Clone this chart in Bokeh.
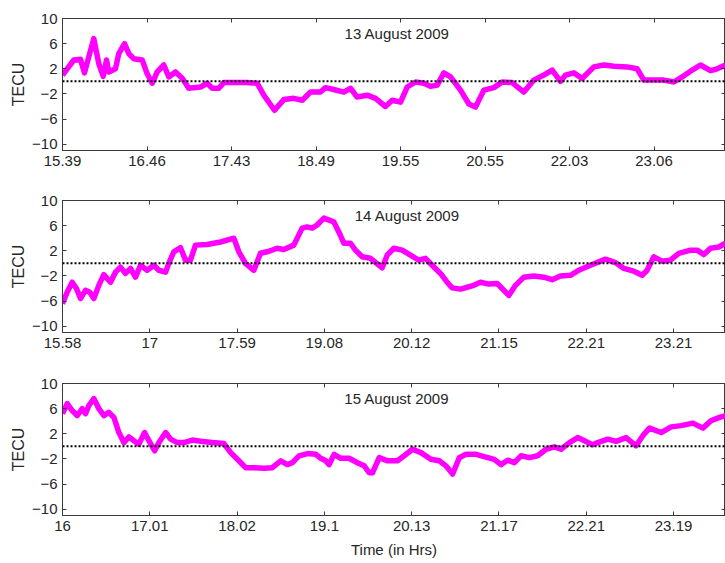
from bokeh.plotting import figure
from bokeh.models import (ColumnDataSource, FixedTicker, CustomJSTickFormatter,
                          CustomLabelingPolicy, LinearAxis, Span, Label, Range1d)
from bokeh.layouts import column
from bokeh.embed import file_html
from bokeh.resources import INLINE

# ---------------- data (x in units of labelled tick intervals) ----------------
y_ticks = [-10, -6, -2, 2, 6, 10]

labels_13 = ["15.39", "16.46", "17.43", "18.49", "19.55", "20.55", "22.03", "23.06"]
labels_14 = ["15.58", "17", "17.59", "19.08", "20.12", "21.15", "22.21", "23.21"]
labels_15 = ["16", "17.01", "18.02", "19.1", "20.13", "21.17", "22.21", "23.19"]

titles = ["13 August 2009", "14 August 2009", "15 August 2009"]

x_13 = [0.0, 0.134, 0.213, 0.260, 0.311, 0.370, 0.430, 0.482, 0.521, 0.548,
        0.627, 0.666, 0.734, 0.785, 0.844, 0.943, 1.002, 1.062, 1.121, 1.199,
        1.258, 1.337, 1.417, 1.495, 1.554, 1.633, 1.712, 1.772, 1.850, 1.909,
        2.027, 2.186, 2.304, 2.382, 2.509, 2.619, 2.737, 2.837, 2.935, 3.053,
        3.112, 3.211, 3.329, 3.408, 3.487, 3.606,
        3.704, 3.822, 3.902, 4.0, 4.079, 4.178, 4.276, 4.355, 4.434, 4.513,
        4.592, 4.710, 4.809, 4.888, 4.986, 5.105, 5.203, 5.321, 5.460, 5.578,
        5.696, 5.795, 5.893, 5.953, 6.051, 6.150, 6.288, 6.406, 6.525, 6.682,
        6.801, 6.880, 6.998, 7.116, 7.235, 7.333, 7.452, 7.550, 7.669, 7.748,
        7.846]
tec_13 = [1.0, 3.4, 3.5, 1.35, 3.9, 6.8, 2.8, 0.8, 3.4, 1.5,
          2.0, 4.4, 6.0, 4.4, 3.6, 3.4, 1.2, -0.3, 1.5, 2.6,
          0.7, 1.5, 0.5, -1.1, -1.0, -0.9, -0.3, -1.1, -1.1, -0.2,
          -0.2, -0.2, -0.3, -2.2, -4.6, -2.9, -2.7, -3.0, -1.7, -1.7,
          -1.0, -1.3, -1.7, -1.1, -2.5, -2.2,
          -2.7, -4.0, -3.0, -3.3, -0.9, -0.1, -0.3, -0.8, -0.6, 1.35,
          0.7, -1.4, -3.6, -4.1, -1.4, -1.0, -0.1, -0.2, -1.7, 0.2,
          1.0, 1.8, 0.0, 1.0, 1.35, 0.45, 2.3, 2.6, 2.4, 2.3,
          2.0, 0.2, 0.2, 0.2, -0.1, 0.7, 1.8, 2.6, 1.7, 2.0,
          2.6]

x_14 = [0.0, 0.053, 0.111, 0.160, 0.206, 0.263, 0.313, 0.359, 0.416, 0.473,
        0.550, 0.607, 0.664, 0.722, 0.779, 0.836, 0.893, 0.970, 1.046, 1.103,
        1.180, 1.218, 1.275, 1.352, 1.409, 1.466, 1.523, 1.657, 1.810, 1.963,
        2.020, 2.096, 2.192, 2.268, 2.344, 2.459, 2.535, 2.650, 2.745, 2.803,
        2.860, 2.917, 2.994, 3.108, 3.165, 3.223, 3.299, 3.356, 3.433, 3.528,
        3.662, 3.719, 3.795, 3.891, 3.986, 4.082, 4.158, 4.234, 4.330, 4.406,
        4.464, 4.559, 4.635, 4.712, 4.788, 4.883, 4.979, 5.036, 5.113, 5.189,
        5.284, 5.399, 5.513, 5.609, 5.704, 5.819, 5.914, 6.048, 6.220, 6.334,
        6.430, 6.544, 6.640, 6.697, 6.774, 6.869, 6.964, 7.060, 7.194, 7.270,
        7.346, 7.423, 7.518, 7.595]
tec_14 = [-6.4, -4.6, -3.0, -4.0, -5.6, -4.3, -4.6, -5.6, -3.5, -1.8,
          -3.0, -1.4, -0.6, -1.6, -0.8, -2.2, -0.3, -1.1, -0.3, -1.1,
          -1.4, 0.0, 1.84, 2.5, 0.5, 0.5, 2.9, 3.0, 3.4, 4.0,
          1.84, 0.0, -1.1, 1.6, 1.84, 2.4, 2.2, 2.9, 5.6, 5.8,
          5.6, 6.1, 7.2, 6.6, 5.0, 3.2, 3.2, 2.1, 1.04, 0.8,
          -0.7, 1.3, 2.4, 2.1, 1.3, 0.5, 0.8, -0.3, -1.6, -3.0,
          -3.9, -4.1, -3.8, -3.5, -3.0, -3.3, -3.2, -4.0, -5.1, -3.5,
          -2.2, -2.0, -2.2, -2.6, -2.0, -1.9, -1.1, -0.3, 0.67, 0.13,
          -0.8, -1.25, -1.9, -1.1, 1.04, 0.35, 0.5, 1.6, 2.1, 2.1,
          1.4, 2.4, 2.6, 3.2]

x_15 = [0.0, 0.054, 0.111, 0.168, 0.226, 0.264, 0.302, 0.359, 0.417, 0.474,
        0.531, 0.589, 0.646, 0.703, 0.761, 0.818, 0.875, 0.940, 0.990, 1.055,
        1.105, 1.181, 1.239, 1.315, 1.391, 1.487, 1.583, 1.716, 1.850, 1.927,
        2.003, 2.099, 2.194, 2.309, 2.404, 2.500, 2.576, 2.634, 2.710, 2.806,
        2.901, 2.959, 3.016, 3.054, 3.112, 3.188, 3.284, 3.379, 3.456, 3.513,
        3.551, 3.628, 3.723, 3.838, 3.914, 4.010, 4.106, 4.220, 4.316, 4.392,
        4.469, 4.545, 4.622, 4.736, 4.851, 4.946, 5.023, 5.099, 5.176, 5.252,
        5.348, 5.443, 5.539, 5.635, 5.711, 5.807, 5.902, 5.979, 6.074, 6.131,
        6.246, 6.342, 6.456, 6.571, 6.648, 6.724, 6.858, 6.972, 7.087, 7.221,
        7.336, 7.431, 7.527, 7.603]
tec_15 = [5.2, 6.8, 5.7, 4.9, 6.0, 5.2, 6.5, 7.6, 6.0, 4.9,
          5.4, 4.6, 2.2, 0.6, 1.5, 0.9, 0.35, 2.2, 0.9, -0.7,
          0.6, 2.2, 1.15, 0.6, 0.6, 1.0, 0.8, 0.6, 0.45, -1.0,
          -2.06, -3.4, -3.4, -3.5, -3.4, -2.3, -2.9, -2.6, -1.5, -1.15,
          -1.26, -1.9, -2.3, -2.9, -1.26, -1.9, -1.9, -2.6, -3.1, -4.2,
          -4.2, -1.8, -2.3, -2.3, -1.5, -0.46, -1.0, -2.06, -2.3, -3.1,
          -4.4, -1.8, -1.26, -1.26, -1.7, -2.06, -2.9, -2.2, -2.6, -1.5,
          -1.8, -1.5, -0.46, -0.08, -0.46, 0.6, 1.4, 0.9, 0.24, 0.6,
          1.15, 0.8, 1.4, 0.08, 1.7, 2.9, 2.2, 3.1, 3.3, 3.7,
          2.9, 4.1, 4.6, 4.9]

# ---------------- styling ----------------
FONT = "Liberation Sans"
TXT = "#262626"
FRAME = "#3a3a3a"
MAGENTA = "#ff00ff"

NO_LABELS = CustomLabelingPolicy(code="""
    const all = [...indices];
    for (const i of all) { indices.unset(i); }
    return indices;
""")


def style_axis(ax, show_labels=True):
    ax.axis_line_color = FRAME
    ax.axis_line_width = 1
    ax.major_tick_line_color = FRAME
    ax.major_tick_in = 4
    ax.major_tick_out = 0
    ax.minor_tick_line_color = None
    if show_labels:
        ax.major_label_text_font = FONT
        ax.major_label_text_font_size = "15px"
        ax.major_label_text_color = TXT
        ax.major_label_standoff = 5
    else:
        ax.major_label_policy = NO_LABELS
        ax.major_label_text_font_size = "0px"
        ax.major_label_standoff = 0


def make_panel(xs, ys, labels, title, title_x, x_end, height, top, bottom, xlabel=None):
    p = figure(width=725, height=height, output_backend="svg", toolbar_location=None,
               x_range=Range1d(0, x_end), y_range=Range1d(-11, 10),
               min_border_left=62, min_border_right=0,
               min_border_top=top, min_border_bottom=bottom,
               x_axis_type=None, y_axis_type=None)
    p.outline_line_color = FRAME
    p.background_fill_color = "white"
    p.border_fill_color = "white"

    xt = FixedTicker(ticks=list(range(len(labels))))
    yt = FixedTicker(ticks=y_ticks)

    xb = LinearAxis(ticker=xt,
                    formatter=CustomJSTickFormatter(args=dict(labels=labels),
                                                    code="const i = Math.round(tick); return (i >= 0 && i < labels.length) ? labels[i] : '';"))
    style_axis(xb)
    if xlabel:
        xb.axis_label = xlabel
        xb.axis_label_text_font = FONT
        xb.axis_label_text_font_size = "15px"
        xb.axis_label_text_font_style = "normal"
        xb.axis_label_text_color = TXT
        xb.axis_label_standoff = 7
    p.add_layout(xb, "below")

    yl = LinearAxis(ticker=yt, axis_label="TECU")
    style_axis(yl)
    yl.axis_label_text_font = FONT
    yl.axis_label_text_font_size = "16px"
    yl.axis_label_text_font_style = "normal"
    yl.axis_label_text_color = TXT
    yl.axis_label_standoff = 2
    p.add_layout(yl, "left")

    xa = LinearAxis(ticker=xt)
    style_axis(xa, show_labels=False)
    p.add_layout(xa, "above")
    yr = LinearAxis(ticker=yt)
    style_axis(yr, show_labels=False)
    p.add_layout(yr, "right")

    src = ColumnDataSource(dict(x=xs, y=ys))
    p.line("x", "y", source=src, line_color=MAGENTA, line_width=5.5, line_join="round")

    p.add_layout(Span(location=0, dimension="width", line_color="black",
                      line_width=2, line_dash="2 2"))

    p.add_layout(Label(x=title_x, y=7.6, text=title, text_align="center",
                       text_baseline="middle", text_font=FONT, text_font_size="15px",
                       text_color=TXT))
    return p


p1 = make_panel(x_13, tec_13, labels_13, titles[0], 3.96, 7.846, 190, 18, 40)
p2 = make_panel(x_14, tec_14, labels_14, titles[1], 3.95, 7.595, 182, 10, 40)
p3 = make_panel(x_15, tec_15, labels_15, titles[2], 3.83, 7.595, 191, 11, 48,
                xlabel="Time (in Hrs)")

layout = column(p1, p2, p3, spacing=0)

open("out.html", "w").write(file_html(layout, INLINE))
